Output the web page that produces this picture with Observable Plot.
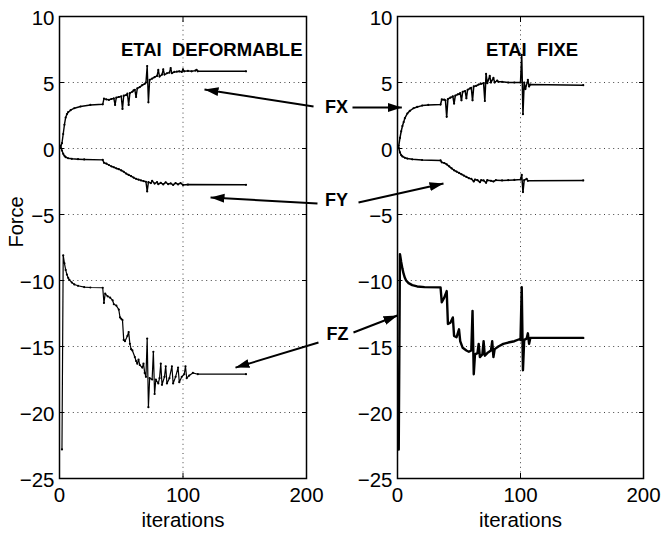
<!DOCTYPE html>
<html><head><meta charset="utf-8">
<script src="https://cdn.jsdelivr.net/npm/d3@7"></script>
<script src="https://cdn.jsdelivr.net/npm/@observablehq/plot@0.6"></script>
<style>
body{margin:0;background:#fff}
#chart{position:relative;width:661px;height:538px}
</style>
</head><body><div id="chart"></div>
<script>
const xTicks = [0, 100, 200];
const yTicks = [-25, -20, -15, -10, -5, 0, 5, 10];
const xLabel = "iterations";
const yLabel = "Force";
const titles = ["ETAI\u00a0\u00a0DEFORMABLE", "ETAI\u00a0\u00a0FIXE"];

// ETAI DEFORMABLE
const defFX = [[1,0.2],[2,0.4],[3,1.1],[4,1.8],[5,2.35],[6,2.6],[7,2.75],[9,2.9],[12,3.05],[17,3.18],[25,3.3],[35,3.35],[36,3.78],[38,3.72],[40,3.68],[42,3.75],[44,3.8],[45,3.3],[46,3.85],[48,3.9],[50,3.95],[51,3.0],[52,4.0],[54,4.05],[55,4.15],[56,3.3],[57,4.2],[59,4.3],[60,4.4],[61,4.45],[62,3.9],[63,4.55],[65,4.65],[67,4.8],[69,4.9],[70,5.0],[71,6.25],[72,3.5],[73,5.2],[75,5.3],[77,5.4],[79,5.5],[80,5.95],[81,5.45],[83,5.6],[84,6.0],[85,5.6],[87,5.7],[89,5.75],[90,6.1],[91,5.7],[93,5.8],[95,5.82],[97,5.85],[99,5.8],[100,6.0],[101,5.85],[104,5.88],[107,5.85],[110,5.9],[111,5.95],[112,5.85],[151,5.85]];
const defFY = [[1,0.1],[2,-0.15],[3,-0.4],[4,-0.55],[5,-0.66],[7,-0.74],[10,-0.78],[15,-0.81],[20,-0.83],[35,-0.86],[36,-1.08],[38,-1.15],[40,-1.25],[42,-1.35],[44,-1.42],[46,-1.5],[48,-1.57],[50,-1.66],[52,-1.76],[54,-1.9],[56,-2.0],[58,-2.1],[60,-2.2],[62,-2.3],[64,-2.36],[66,-2.42],[68,-2.47],[70,-2.52],[71,-3.25],[72,-2.55],[74,-2.62],[75,-2.45],[77,-2.66],[79,-2.55],[80,-2.7],[82,-2.6],[84,-2.72],[86,-2.56],[88,-2.7],[90,-2.64],[92,-2.76],[94,-2.62],[96,-2.72],[98,-2.62],[100,-2.76],[104,-2.73],[151,-2.75]];
const defFZ = [[2,-22.8],[3,-8.1],[4,-8.7],[5,-9.2],[6,-9.55],[7,-9.8],[8,-9.95],[10,-10.15],[12,-10.3],[15,-10.4],[20,-10.5],[25,-10.53],[35,-10.55],[36,-11.7],[37,-11.0],[39,-11.2],[41,-11.3],[43,-11.5],[44,-11.8],[46,-11.9],[48,-12.2],[49,-12.8],[50,-12.9],[51,-13.0],[52,-14.5],[53,-14.6],[55,-14.2],[56,-13.9],[57,-14.8],[58,-15.2],[59,-15.3],[61,-15.8],[62,-16.1],[63,-16.3],[64,-16.0],[65,-16.4],[67,-16.6],[68,-16.3],[69,-17.0],[70,-17.3],[71,-14.4],[72,-19.6],[73,-17.4],[75,-17.5],[76,-15.4],[77,-18.6],[78,-17.5],[80,-17.8],[81,-17.4],[82,-16.3],[83,-17.9],[85,-17.3],[86,-16.5],[87,-17.8],[89,-17.4],[91,-16.5],[92,-17.8],[94,-17.3],[96,-16.6],[97,-17.7],[99,-17.3],[101,-17.1],[102,-16.5],[103,-17.4],[105,-17.2],[108,-17.0],[112,-17.1],[151,-17.1]];

// ETAI FIXE
const fixFX = [[1,0.2],[2,0.8],[3,1.3],[4,1.7],[5,2.0],[6,2.3],[8,2.65],[10,2.85],[13,3.05],[16,3.15],[20,3.25],[25,3.3],[35,3.33],[36,3.72],[38,3.7],[39,3.65],[40,2.4],[41,3.75],[43,3.85],[45,3.95],[46,3.4],[47,4.0],[49,4.1],[51,4.2],[52,3.65],[53,4.3],[55,4.35],[56,3.8],[57,4.45],[59,4.55],[60,4.6],[61,3.65],[62,4.7],[64,4.75],[66,4.85],[68,4.9],[70,4.95],[71,3.6],[72,5.65],[73,4.95],[75,5.5],[76,5.0],[78,5.35],[79,5.0],[81,5.15],[82,5.05],[85,5.05],[90,5.0],[95,5.0],[100,5.0],[101,7.1],[102,2.6],[103,5.0],[104,4.5],[106,5.2],[107,4.7],[108,4.85],[151,4.8]];
const fixFY = [[1,0.05],[2,-0.3],[3,-0.5],[4,-0.6],[6,-0.7],[8,-0.76],[12,-0.82],[20,-0.87],[35,-0.9],[36,-1.05],[38,-1.1],[40,-1.2],[42,-1.35],[44,-1.5],[46,-1.65],[48,-1.75],[50,-1.85],[52,-1.95],[54,-2.05],[56,-2.15],[58,-2.25],[60,-2.3],[62,-2.5],[63,-2.35],[65,-2.4],[67,-2.55],[68,-2.4],[70,-2.42],[72,-2.6],[73,-2.4],[76,-2.45],[78,-2.5],[80,-2.4],[85,-2.42],[90,-2.4],[95,-2.38],[100,-2.35],[101,-2.0],[102,-3.3],[103,-2.4],[105,-2.3],[106,-2.45],[151,-2.42]];
const fixFZ = [[1,-22.8],[2,-8.0],[3,-8.6],[4,-9.1],[5,-9.5],[6,-9.8],[7,-10.0],[9,-10.2],[12,-10.35],[16,-10.45],[22,-10.5],[35,-10.52],[36,-11.65],[38,-11.3],[40,-10.8],[41,-13.3],[43,-13.2],[45,-12.8],[46,-14.2],[48,-14.3],[50,-13.7],[51,-14.6],[53,-15.1],[56,-15.3],[58,-15.4],[60,-15.3],[61,-12.3],[62,-17.1],[63,-15.6],[65,-15.5],[66,-14.8],[67,-15.8],[69,-15.6],[70,-14.6],[71,-15.7],[73,-15.5],[76,-15.3],[77,-14.6],[78,-15.8],[79,-15.2],[82,-15.0],[86,-14.8],[90,-14.7],[95,-14.6],[99,-14.45],[100,-14.5],[101,-10.5],[102,-16.8],[103,-14.5],[105,-14.4],[106,-14.0],[107,-14.8],[108,-14.35],[151,-14.35]];

// annotation arrows (data coordinates of each panel): [x1,y1,x2,y2]
const leftArrows = [[205.7,3.18,117.4,4.47],[208.9,-4.17,122.3,-3.71],[209.7,-14.7,142.5,-16.6]];
const rightArrows = [[-36.6,3.11,3.5,3.11],[-31.7,-4.09,37.4,-2.65],[-35.8,-13.94,0,-12.65]];
const labelNames = ["FX", "FY", "FZ"];
const labelX = [-49.6, -49.6, -48.8];
const labelY = [3.11, -3.94, -14.09];

const FONT = "'Liberation Sans', Arial, Helvetica, sans-serif";

function headMarker(color, context) {
  return d3.create("svg:marker")
    .attr("viewBox", "-14 -5 14 10")
    .attr("markerWidth", 14)
    .attr("markerHeight", 10)
    .attr("markerUnits", "userSpaceOnUse")
    .attr("refX", 0).attr("refY", 0)
    .attr("orient", "auto")
    .call(m => m.append("path").attr("d", "M-14,-4.5L0,0L-14,4.5Z").attr("fill", color).attr("stroke", "none"))
    .node();
}

function panel({left, width, marginLeft, marginRight, series, widths, title, titleOpts, arrows, withYLabel, withLabels}) {
  const marks = [
    Plot.ruleY(yTicks, {y: d => d, stroke: "#444", strokeWidth: 1, strokeDasharray: "1,3.6"}),
    Plot.ruleX(xTicks, {x: d => d, stroke: "#444", strokeWidth: 1, strokeDasharray: "1,3.6"}),
    Plot.axisX(xTicks, {anchor: "bottom", tickSize: 0, tickPadding: 9, label: null, fontSize: 20.5}),
    Plot.axisY(yTicks, {anchor: "left", tickSize: 0, tickPadding: 5, label: null, dy: 2, fontSize: 20.5}),
    Plot.axisX(xTicks, {anchor: "bottom", tickSize: -5, tickFormat: () => "", label: null}),
    Plot.axisX(xTicks, {anchor: "top", tickSize: -5, tickFormat: () => "", label: null}),
    Plot.axisY(yTicks, {anchor: "left", tickSize: -5, tickFormat: () => "", label: null}),
    Plot.axisY(yTicks, {anchor: "right", tickSize: -5, tickFormat: () => "", label: null}),
    Plot.frame({stroke: "black", strokeWidth: 1.5})
  ];
  series.forEach((s, i) => {
    marks.push(Plot.line(s, {x: d => d[0], y: d => d[1], stroke: "black", strokeWidth: widths[i], strokeLinejoin: "round"}));
    if (widths[i] < 2) marks.push(Plot.dot(s, {x: d => d[0], y: d => d[1], r: 1.1, fill: "black"}));
  });
  marks.push(Plot.link(arrows, {x1: d => d[0], y1: d => d[1], x2: d => d[2], y2: d => d[3], stroke: "black", strokeWidth: 2, markerEnd: headMarker}));
  marks.push(Plot.text([title], {text: d => d, fontWeight: "bold", fontSize: 18.5, ...titleOpts}));
  marks.push(Plot.text([xLabel], {text: d => d, frameAnchor: "bottom", dy: 48, fontSize: 20.5}));
  if (withYLabel) marks.push(Plot.text([yLabel], {text: d => d, frameAnchor: "left", dx: -43, rotate: -90, fontSize: 20}));
  if (withLabels) marks.push(Plot.text(labelNames, {x: (d, i) => labelX[i], y: (d, i) => labelY[i], text: d => d, fontWeight: "bold", fontSize: 18}));
  return Plot.plot({
    width, height: 538,
    marginLeft, marginRight, marginTop: 16, marginBottom: 60,
    x: {domain: [0, 200], axis: null},
    y: {domain: [-25, 10], axis: null},
    style: {position: "absolute", left: left + "px", top: "0px", overflow: "visible", background: "none", fontFamily: FONT, fontSize: "20px", color: "black"},
    marks
  });
}

const chart = document.getElementById("chart");
chart.append(panel({
  left: 0, width: 330, marginLeft: 59, marginRight: 24,
  series: [defFX, defFY, defFZ], widths: [1.4, 1.4, 1.2],
  title: titles[0], titleOpts: {frameAnchor: "top-right", dx: -4, dy: 26, textAnchor: "end"},
  arrows: leftArrows, withYLabel: true, withLabels: false
}));
chart.append(panel({
  left: 330, width: 331, marginLeft: 67, marginRight: 18,
  series: [fixFX, fixFY, fixFZ], widths: [1.5, 1.5, 2.4],
  title: titles[1], titleOpts: {frameAnchor: "top", dx: 11.5, dy: 26},
  arrows: rightArrows, withYLabel: false, withLabels: true
}));
</script>
</body></html>
